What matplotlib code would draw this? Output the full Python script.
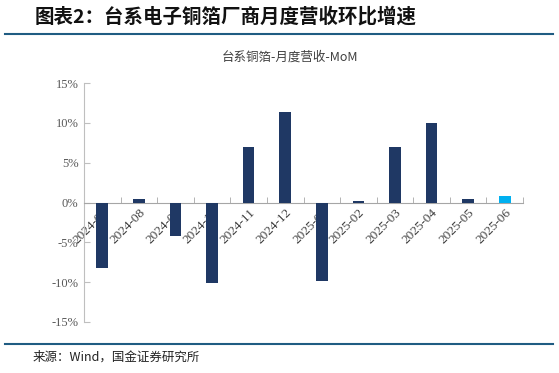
import matplotlib.pyplot as plt
from matplotlib.ticker import FuncFormatter, MultipleLocator, FixedLocator

# data
months = ['2024-07', '2024-08', '2024-09', '2024-10', '2024-11', '2024-12',
          '2025-01', '2025-02', '2025-03', '2025-04', '2025-05', '2025-06']
mom = [-8.2, 0.4, -4.2, -10.1, 7.0, 11.3, -9.8, 0.2, 7.0, 10.0, 0.4, 0.8]

cjk = ['Noto Sans CJK SC', 'DejaVu Sans']
dark = '#1F3864'
light = '#00B0F0'
line_col = '#1F5C82'

fig = plt.figure(figsize=(5.59, 3.73), dpi=100)

# header and footer
fig.text(35/559, 1-17/373, '图表2：台系电子铜箔厂商月度营收环比增速', family=cjk,
         fontsize=14, fontweight='bold', style='italic', va='center', ha='left', color='#111111')
fig.add_artist(plt.Line2D([5/559, 553/559], [1-34/373, 1-34/373], color=line_col, lw=1.5))
fig.add_artist(plt.Line2D([5/559, 553/559], [1-344/373, 1-344/373], color=line_col, lw=1.5))
fig.text(33/559, 1-357/373, '来源：Wind，国金证券研究所', family=cjk, fontsize=9,
         va='center', ha='left', color='#222222')
fig.text(290/559, 1-57/373, '台系铜箔-月度营收-MoM', family=cjk, fontsize=9,
         va='center', ha='center', color='#404040')

ax = fig.add_axes([84/559, 1-322/373, 439/559, 239/373])
x = list(range(len(months)))
colors = [dark]*(len(months)-1) + [light]
ax.bar(x, mom, width=0.32, color=colors, zorder=3)

ax.set_xlim(-0.5, len(months)-0.5)
ax.set_ylim(-15, 15)
ax.yaxis.set_major_locator(MultipleLocator(5))
ax.yaxis.set_major_formatter(FuncFormatter(lambda v, p: '%d%%' % v))

for s in ['top', 'right']:
    ax.spines[s].set_visible(False)
ax.spines['bottom'].set_position(('data', 0))
ax.spines['bottom'].set_color('#A6A6A6')
ax.spines['left'].set_color('#BFBFBF')
ax.xaxis.set_zorder(1)

ax.set_xticks(x)
ax.set_xticklabels(months, rotation=45, ha='right', va='top', rotation_mode='anchor',
                   family='Liberation Serif', fontsize=9.5, color='#404040')
ax.xaxis.set_minor_locator(FixedLocator([i + 0.5 for i in x]))
ax.tick_params(axis='x', which='major', length=0, pad=3)
ax.tick_params(axis='x', which='minor', length=4, direction='in', color='#A6A6A6')
ax.tick_params(axis='y', length=4, direction='in', color='#BFBFBF', labelsize=9,
               labelcolor='#595959', pad=4)
for lab in ax.get_yticklabels():
    lab.set_family('Liberation Serif')

fig.savefig('out.png', dpi=100)
